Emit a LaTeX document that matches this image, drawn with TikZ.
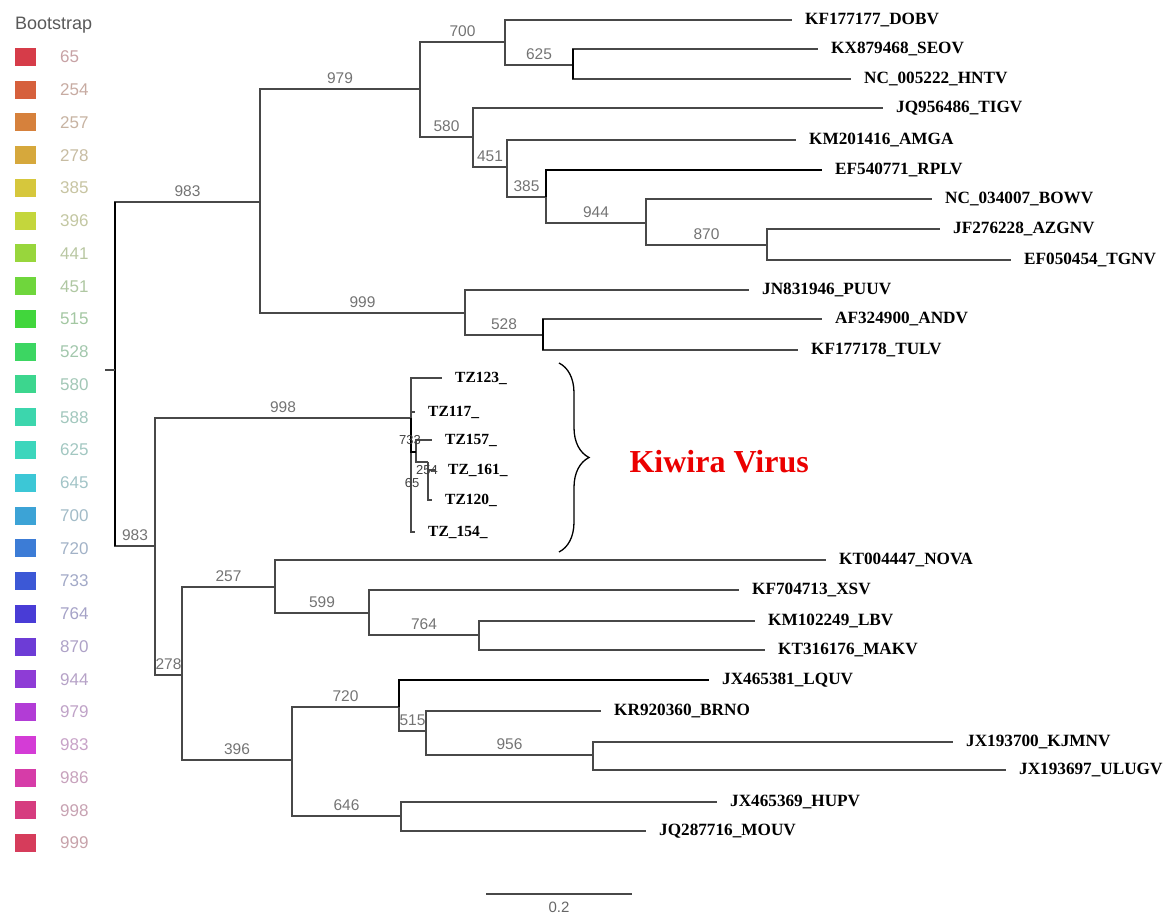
\documentclass[tikz,border=0pt]{standalone}
\usepackage{fontspec}
\setmainfont{Liberation Serif}
\setsansfont{Liberation Sans}
\usetikzlibrary{decorations.pathreplacing}
\definecolor{kred}{RGB}{235,0,0}
\definecolor{brgray}{RGB}{72,72,72}
\tikzset{br/.style={brgray,line width=1.1pt},
         brb/.style={black,line width=1.9pt},
         bs/.style={font=\sffamily\fontsize{15.5}{16}\selectfont,black!55,above=4pt,inner sep=1pt},
         kbs/.style={font=\sffamily\fontsize{13}{13}\selectfont,black!75,inner sep=0pt},
         leaf/.style={anchor=west,inner xsep=13pt,font=\bfseries\fontsize{17.2}{18}\selectfont},
         tzleaf/.style={leaf,font=\bfseries\fontsize{15.5}{16}\selectfont}}

\begin{document}
\begin{tikzpicture}[x=1pt,y=-1pt]
  \useasboundingbox (0,0) rectangle (1168,917);
  % legend
  \node[anchor=west,inner sep=0pt,font=\sffamily\fontsize{18}{18}\selectfont,black!65] (bslegend) at (15,25) {Bootstrap};
  \foreach \v/\h [count=\i from 0] in {65/355,254/14,257/27,278/42,385/54,396/67,441/84,451/100,515/118,528/135,%
      580/152,588/164,625/170,645/186,700/200,720/215,733/229,764/245,870/259,944/272,979/286,983/299,986/318,998/334,999/348}{
    \convertcolorspec{Hsb}{\h,0.72,0.84}{rgb}\bsspec
    \definecolor{bsc}{rgb}{\bsspec}
    \fill[bsc] (15,{57+32.75*\i-9}) rectangle (36,{57+32.75*\i+9});
    \node[anchor=west,inner sep=0pt,text=bsc!40!gray!60!white,font=\sffamily\fontsize{17}{17}\selectfont] (lg\i) at (60,{57+32.75*\i}) {\v};
  }

  % internal nodes
  \coordinate (root) at (115,370);
  \coordinate (nA)   at (260,202);
  \coordinate (n979) at (420,89);
  \coordinate (n700) at (505,42);
  \coordinate (n625) at (573,65);
  \coordinate (n580) at (473,137);
  \coordinate (n451) at (507,167);
  \coordinate (n385) at (546,197);
  \coordinate (n944) at (646,223);
  \coordinate (n870) at (767,245);
  \coordinate (n999) at (465,313);
  \coordinate (n528) at (543,335);
  \coordinate (nB)   at (155,546);
  \coordinate (n998) at (411,418);
  \coordinate (nC)   at (182,675);
  \coordinate (n257) at (275,587);
  \coordinate (n599) at (369,613);
  \coordinate (n764) at (479,635);
  \coordinate (n396) at (292,760);
  \coordinate (n720) at (399,707);
  \coordinate (n515) at (426,731);
  \coordinate (n956) at (593,755);
  \coordinate (n646) at (401,816);
  \coordinate (k733) at (416,452);
  \coordinate (k254) at (428,462);

  % leaves
  \node[leaf] (dobv)  at (792,20)  {KF177177\_DOBV};
  \node[leaf] (seov)  at (818,49)  {KX879468\_SEOV};
  \node[leaf] (hntv)  at (851,79)  {NC\_005222\_HNTV};
  \node[leaf] (tigv)  at (883,108) {JQ956486\_TIGV};
  \node[leaf] (amga)  at (796,140) {KM201416\_AMGA};
  \node[leaf] (rplv)  at (822,170) {EF540771\_RPLV};
  \node[leaf] (bowv)  at (932,199) {NC\_034007\_BOWV};
  \node[leaf] (azgnv) at (940,229) {JF276228\_AZGNV};
  \node[leaf] (tgnv)  at (1011,260) {EF050454\_TGNV};
  \node[leaf] (puuv)  at (749,290) {JN831946\_PUUV};
  \node[leaf] (andv)  at (822,319) {AF324900\_ANDV};
  \node[leaf] (tulv)  at (798,350) {KF177178\_TULV};
  \node[tzleaf] (tz123) at (442,378) {TZ123\_};
  \node[tzleaf] (tz117) at (415,412) {TZ117\_};
  \node[tzleaf] (tz157) at (432,440) {TZ157\_};
  \node[tzleaf] (tz161) at (435,470) {TZ\_161\_};
  \node[tzleaf] (tz120) at (432,500) {TZ120\_};
  \node[tzleaf] (tz154) at (415,532) {TZ\_154\_};
  \node[leaf] (nova)  at (826,560) {KT004447\_NOVA};
  \node[leaf] (xsv)   at (739,590) {KF704713\_XSV};
  \node[leaf] (lbv)   at (755,621) {KM102249\_LBV};
  \node[leaf] (makv)  at (765,650) {KT316176\_MAKV};
  \node[leaf] (lquv)  at (709,680) {JX465381\_LQUV};
  \node[leaf] (brno)  at (601,711) {KR920360\_BRNO};
  \node[leaf] (kjmnv) at (953,742) {JX193700\_KJMNV};
  \node[leaf] (ulugv) at (1006,770) {JX193697\_ULUGV};
  \node[leaf] (hupv)  at (717,802) {JX465369\_HUPV};
  \node[leaf] (mouv)  at (646,831) {JQ287716\_MOUV};

  % branches with bootstrap values
  \foreach \p/\c/\b in {root/nA/983,nA/n979/979,n979/n700/700,n700/n625/625,n979/n580/580,n580/n451/451,
      n451/n385/385,n385/n944/944,n944/n870/870,nA/n999/999,n999/n528/528,root/nB/983,nB/n998/998,
      nB/nC/278,nC/n257/257,n257/n599/599,n599/n764/764,nC/n396/396,n396/n720/720,n720/n515/515,
      n515/n956/956,n396/n646/646}
    \draw[br] (\p) |- (\c) node[bs,pos=.75] {\b};
  \foreach \p/\c in {n700/dobv,n625/seov,n625/hntv,n580/tigv,n451/amga,n944/bowv,n870/azgnv,n870/tgnv,
      n999/puuv,n528/andv,n528/tulv,n998/tz123,n998/tz117,n998/tz154,k733/tz157,k254/tz161,k254/tz120,
      n257/nova,n599/xsv,n764/lbv,n764/makv,n515/brno,n956/kjmnv,n956/ulugv,n646/hupv,n646/mouv}
    \draw[br] (\p) |- (\c.west);
  \draw[br] (k733) |- (k254);
  \draw[brb] (n385) |- (rplv.west);
  \draw[brb] (n720) |- (lquv.west);
  \draw[brb] (n998) |- (k733);
  \draw[brb] (root |- nA) -- (root |- nB);
  \draw[br] (root) -- ++(-10,0);
  \draw[brb] (seov.west -| n625) -- (hntv.west -| n625);
  \draw[brb] (andv.west -| n528) -- (tulv.west -| n528);

  % small values inside the Kiwira cluster
  \node[kbs] (l733) at (410,440) {733};
  \node[kbs] (l254) at (427,470) {254};
  \node[kbs] (l65)  at (412,483) {65};

  % Kiwira brace
  \coordinate (btop) at (559,363);
  \coordinate (bbot) at (559,552);
  \draw[black,line width=1.3pt,decorate,decoration={brace,amplitude=30pt}] (btop) -- (bbot);
  \node[anchor=west,text=kred,font=\bfseries\fontsize{32}{34}\selectfont] (kiwira) at (626,462) {Kiwira Virus};

  % scale bar
  \coordinate (sbl) at (486,894);
  \coordinate (sbr) at (632,894);
  \draw[br] (sbl) -- (sbr) node[midway,below=7pt,inner sep=0pt,font=\sffamily\fontsize{15}{15}\selectfont,black!60] (sblab) {0.2};
\end{tikzpicture}
\end{document}
